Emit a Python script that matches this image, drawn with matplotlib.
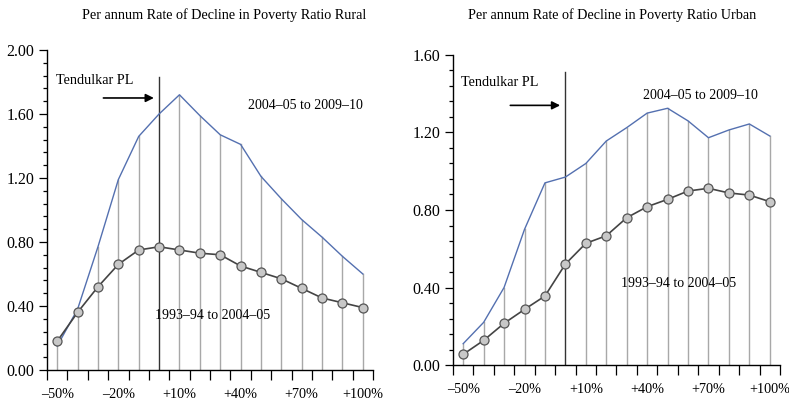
import matplotlib
matplotlib.use('Agg')
import matplotlib.pyplot as plt
import numpy as np

plt.rcParams['font.family'] = ['Liberation Serif', 'DejaVu Serif']

# poverty line variation, % around Tendulkar PL
pl_shift = [-50, -40, -30, -20, -10, 0, 10, 20, 30, 40, 50, 60, 70, 80, 90, 100]
tick_pos = [-50, -20, 10, 40, 70, 100]
tick_lab = ['\u201350%', '\u201320%', '+10%', '+40%', '+70%', '+100%']

rural_9305 = [0.18, 0.36, 0.52, 0.66, 0.75, 0.77, 0.75, 0.73, 0.72, 0.65,
              0.61, 0.57, 0.51, 0.45, 0.42, 0.39]
rural_0510 = [0.15, 0.38, 0.77, 1.19, 1.46, 1.60, 1.72, 1.59, 1.47, 1.41,
              1.21, 1.07, 0.94, 0.83, 0.71, 0.60]
urban_9305 = [0.055, 0.127, 0.215, 0.287, 0.356, 0.521, 0.628, 0.667, 0.760, 0.817,
              0.855, 0.898, 0.912, 0.888, 0.877, 0.843]
urban_0510 = [0.11, 0.22, 0.40, 0.70, 0.94, 0.97, 1.04, 1.156, 1.225, 1.30,
              1.325, 1.26, 1.173, 1.213, 1.244, 1.182]

fig = plt.figure(figsize=(7.89, 4.11), dpi=100)
ax1 = fig.add_axes([0.0596, 0.0998, 0.4132, 0.7786])
ax2 = fig.add_axes([0.5741, 0.1119, 0.4145, 0.7543])

blue = '#5470b0'


def panel(ax, old, new, ymax, pl_top, txt):
    x = np.array(pl_shift)
    for xi, yi in zip(x, new):
        if xi == 0:
            ax.plot([xi, xi], [0, pl_top], color='#333333', lw=1.0, zorder=2)
        else:
            ax.plot([xi, xi], [0, yi], color='#a8a8a8', lw=1.0, zorder=1)
    ax.plot(x, new, color=blue, lw=1.0, zorder=3)
    ax.plot(x, old, color='#444444', lw=1.2, marker='o', markersize=6.5,
            markerfacecolor='#c8c8c8', markeredgecolor='#555555',
            markeredgewidth=0.9, zorder=4)
    ax.set_xlim(-55, 105)
    ax.set_ylim(0, ymax)
    ax.set_yticks(np.arange(0, ymax + 0.01, 0.4))
    ax.set_yticklabels(['%.2f' % v for v in np.arange(0, ymax + 0.01, 0.4)])
    ax.set_yticks(np.arange(0, ymax + 0.01, 0.08), minor=True)
    ax.set_xticks(tick_pos)
    ax.set_xticklabels(tick_lab)
    ax.set_xticks(np.arange(-55, 106, 10), minor=True)
    ax.tick_params(axis='x', which='major', length=0, pad=13, labelsize=10.2)
    ax.tick_params(axis='x', which='minor', length=7, width=0.9, direction='out')
    ax.tick_params(axis='y', which='major', length=6, width=0.9, labelsize=11.5, pad=3)
    ax.tick_params(axis='y', which='minor', length=3, width=0.9)
    for s in ['top', 'right']:
        ax.spines[s].set_visible(False)
    for s in ['left', 'bottom']:
        ax.spines[s].set_linewidth(1.0)
    (tx, ty), (ax0, ax1_, ay), (nx, ny), (ox, oy) = txt
    ax.text(tx, ty, 'Tendulkar PL', fontsize=10.2, va='center', ha='left')
    ax.annotate('', xy=(ax1_, ay), xytext=(ax0, ay),
                arrowprops=dict(arrowstyle='-|>', color='black', lw=1.2,
                                mutation_scale=12))
    ax.text(nx, ny, '2004\u201305 to 2009\u201310', fontsize=10, va='center', ha='left')
    ax.text(ox, oy, '1993\u201394 to 2004\u201305', fontsize=10, va='center', ha='center')


panel(ax1, rural_9305, rural_0510, 2.0, 1.83,
      ((-50.5, 1.81), (-28.7, -1.2, 1.70), (43.6, 1.65), (26.2, 0.34)))
panel(ax2, urban_9305, urban_0510, 1.6, 1.51,
      ((-51, 1.46), (-28.3, -1.2, 1.34), (38.2, 1.39), (55.4, 0.42)))

fig.text(0.284, 0.963, 'Per annum Rate of Decline in Poverty Ratio Rural',
         fontsize=10.2, ha='center', va='center')
fig.text(0.776, 0.963, 'Per annum Rate of Decline in Poverty Ratio Urban',
         fontsize=10.2, ha='center', va='center')

fig.savefig('out.png', dpi=100)
